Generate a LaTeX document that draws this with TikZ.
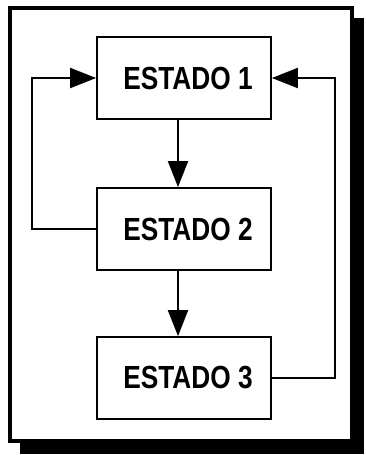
\documentclass[tikz,border=0pt]{standalone}
\usepackage{fontspec}
\setmainfont{Liberation Sans}[FakeStretch=0.82]
\usetikzlibrary{arrows.meta}

\begin{document}
\begin{tikzpicture}[x=1pt,y=-1pt,
		estado/.style={draw, line width=1.8pt, minimum width=174pt, minimum height=82pt, font=\fontsize{32}{32}\selectfont\bfseries},
		flecha/.style={line width=2pt, -{Triangle[length=26pt,width=20pt]}}]
		\useasboundingbox (0,0) rectangle (365,455);
		% marco con sombra
		\fill (20,18) rectangle (364,454);
		\draw [fill=white, line width=3.5pt] (10,8) rectangle (352,441);

		\node [estado](E1) at (184,78) {\hspace{8pt}ESTADO 1};
		\node [estado](E2) at (184,229) {\hspace{8pt}ESTADO 2};
		\node [estado](E3) at (184,378) {\hspace{8pt}ESTADO 3};
		\coordinate (izq) at (32,0);
		\coordinate (der) at (335,0);

		\draw [flecha]([xshift=-6pt]E1.south) -- ([xshift=-6pt]E2.north);
		\draw [flecha]([xshift=-6pt]E2.south) -- ([xshift=-6pt]E3.north);

		\draw [flecha](E2.west) -- (E2.west -| izq) -- (E1.west -| izq) -- (E1.west);
		\draw [flecha](E3.east) -- (E3.east -| der) -- (E1.east -| der) -- (E1.east);
	\end{tikzpicture}
\end{document}
